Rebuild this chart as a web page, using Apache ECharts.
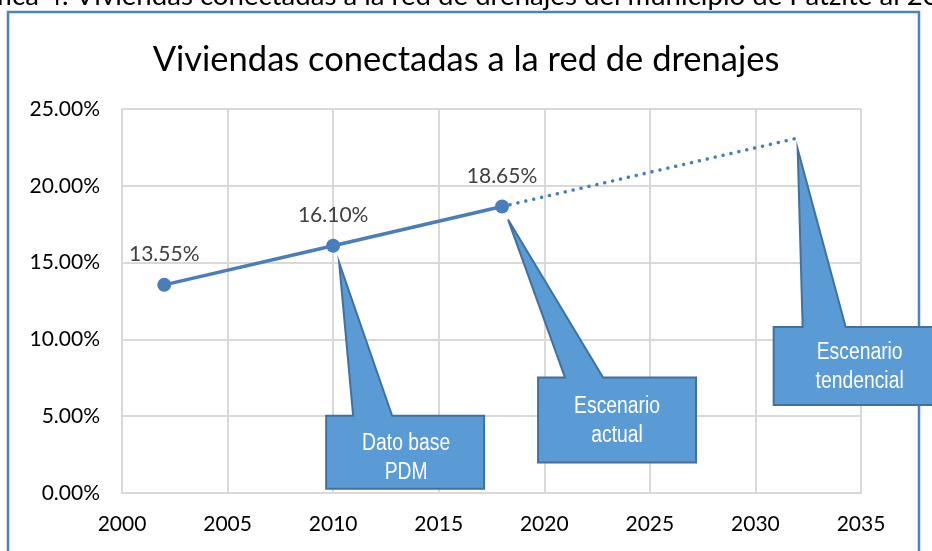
<!DOCTYPE html>
<html style="height: 100%" lang="es">
    <head>
        <title>Viviendas conectadas a la red de drenajes</title>
        <meta charset="utf-8">
        <script type="text/javascript" src="https://cdn.jsdelivr.net/npm/echarts@6/dist/echarts.min.js"></script>
    </head>
    <body style="height: 100%; margin: 0; background: #fff">
        <div id="container" style="width: 932px; height: 551px"></div>
        <script type="text/javascript">
        // datos
        var years = [2002, 2010, 2018];
        var share = [13.55, 16.10, 18.65];
        var trendYears = [2018, 2032];
        var trendShare = [18.65, 23.11];
        var calloutYears = [2010, 2018, 2032];
        var calloutShare = [16.10, 18.65, 23.11];
        var calloutText = ['Dato base\nPDM', 'Escenario\nactual', 'Escenario\ntendencial'];
        var xTicks = [2000, 2035, 5];
        var yTicks = [0, 25, 5];

        // forma de cada globo, en pixeles respecto al punto
        var calloutShape = [
            { tip: [6, 17], l: -7, r: 151, t: 170, b: 243, b1: 20, b2: 59, tx: 73, ty: 212 },
            { tip: [6, 13], l: 36, r: 194, t: 171, b: 256, b1: 63, b2: 101, tx: 115, ty: 215 },
            { tip: [0, 11], l: -24, r: 148, t: 189, b: 267, b1: 5, b2: 48, tx: 62, ty: 229 }
        ];

        var myChart = echarts.init(document.getElementById('container'));
        var option;

        option = {
            backgroundColor: '#fff',
            animation: false,
            title: {
                text: 'Viviendas conectadas a la red de drenajes',
                left: 'center',
                top: 37,
                textStyle: {
                    fontFamily: 'Lato',
                    fontWeight: 'normal',
                    fontSize: 34.5,
                    color: '#000'
                }
            },
            graphic: [
                {
                    type: 'rect',
                    z: 0,
                    shape: { x: 8, y: 12, width: 911, height: 560 },
                    style: { fill: 'none', stroke: '#4f81bd', lineWidth: 2.5 }
                },
                {
                    type: 'text',
                    z: 0,
                    left: -47,
                    top: -18,
                    style: {
                        text: 'Gráfica 4. Viviendas conectadas a la red de drenajes del municipio de Patzité al 2032',
                        font: '27.6px Lato',
                        fill: '#000'
                    }
                }
            ],
            grid: { left: 122, right: 71, top: 109, bottom: 58 },
            xAxis: {
                type: 'value',
                min: xTicks[0],
                max: xTicks[1],
                interval: xTicks[2],
                axisLine: { show: true, lineStyle: { color: '#d9d9d9', width: 2 } },
                axisTick: { show: false },
                axisLabel: {
                    margin: 21,
                    fontFamily: 'Lato',
                    fontSize: 21,
                    color: '#000',
                    formatter: function (v) { return String(v); }
                },
                splitLine: { show: true, lineStyle: { color: '#d9d9d9', width: 2 } }
            },
            yAxis: {
                type: 'value',
                min: yTicks[0],
                max: yTicks[1],
                interval: yTicks[2],
                axisLine: { show: false },
                axisTick: { show: false },
                axisLabel: {
                    margin: 22,
                    fontFamily: 'Lato',
                    fontSize: 21,
                    color: '#000',
                    formatter: function (v) { return v.toFixed(2) + '%'; }
                },
                splitLine: { lineStyle: { color: '#d9d9d9', width: 2 } }
            },
            series: [
                {
                    type: 'line',
                    z: 3,
                    data: trendYears.map(function (y, i) { return [y, trendShare[i]]; }),
                    symbol: 'none',
                    lineStyle: { color: '#4a7ebb', width: 3.5, type: [0.1, 8], cap: 'round' }
                },
                {
                    type: 'line',
                    z: 4,
                    data: years.map(function (y, i) { return [y, share[i]]; }),
                    symbol: 'circle',
                    symbolSize: 14,
                    itemStyle: { color: '#4a7ebb' },
                    lineStyle: { color: '#4a7ebb', width: 3.5 },
                    label: {
                        show: true,
                        position: 'top',
                        distance: 13,
                        fontFamily: 'Lato',
                        fontSize: 21,
                        color: '#404040',
                        formatter: function (p) { return p.value[1].toFixed(2) + '%'; }
                    }
                },
                {
                    type: 'custom',
                    z: 5,
                    clip: false,
                    data: calloutYears.map(function (y, i) { return [y, calloutShare[i]]; }),
                    renderItem: function (params, api) {
                        var p = api.coord([api.value(0), api.value(1)]);
                        var g = calloutShape[params.dataIndex];
                        var x = p[0], y = p[1];
                        var pts = [
                            [x + g.l, y + g.t],
                            [x + g.b1, y + g.t],
                            [x + g.tip[0], y + g.tip[1]],
                            [x + g.b2, y + g.t],
                            [x + g.r, y + g.t],
                            [x + g.r, y + g.b],
                            [x + g.l, y + g.b]
                        ];
                        return {
                            type: 'group',
                            children: [
                                {
                                    type: 'polygon',
                                    shape: { points: pts },
                                    style: { fill: '#5b9bd5', stroke: '#41719c', lineWidth: 2 }
                                },
                                {
                                    type: 'text',
                                    x: x + g.tx,
                                    y: y + g.ty,
                                    scaleX: 0.84,
                                    style: {
                                        text: calloutText[params.dataIndex],
                                        x: 0,
                                        y: 0,
                                        align: 'center',
                                        verticalAlign: 'middle',
                                        font: '23px "Liberation Sans", Arial, sans-serif',
                                        lineHeight: 29,
                                        fill: '#fff'
                                    }
                                }
                            ]
                        };
                    }
                }
            ]
        };

        if (option && typeof option === 'object') {
            myChart.setOption(option);
        }
        </script>
    </body>
</html>
